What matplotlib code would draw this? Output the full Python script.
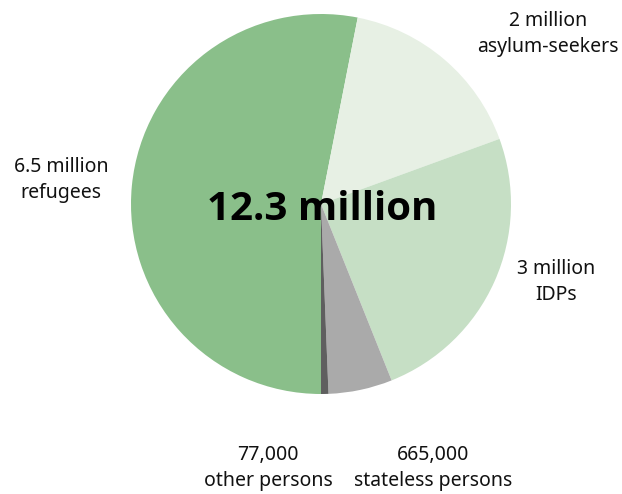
import matplotlib
matplotlib.use("Agg")
import matplotlib.pyplot as plt

categories = ["refugees", "asylum-seekers", "IDPs", "stateless persons", "other persons"]
values_millions = [6.5, 2.0, 3.0, 0.665, 0.077]
labels = ["6.5 million\nrefugees", "2 million\nasylum-seekers", "3 million\nIDPs",
          "665,000\nstateless persons", "77,000\nother persons"]
colors = ["#8abf8a", "#e7f0e4", "#c6dfc5", "#aaaaaa", "#5f5f5f"]
total_label = "12.3 million"

plt.rcParams['font.family'] = ['Noto Sans', 'DejaVu Sans']

W, H = 622, 494
fig = plt.figure(figsize=(W / 100, H / 100), dpi=100)
ax = fig.add_axes([0, 0, 1, 1])

cx, cy, r = 321, H - 204, 190
ax.pie(values_millions, colors=colors, startangle=-90, counterclock=False,
       center=(cx, cy), radius=r, frame=True,
       wedgeprops=dict(linewidth=0))
ax.set_xlim(0, W)
ax.set_ylim(0, H)
ax.set_aspect('equal')
ax.axis('off')

label_pos = [(61, H - 180), (548, H - 34), (556, H - 282), (433, H - 468), (268, H - 468)]
for lab, (x, y) in zip(labels, label_pos):
    ax.text(x, y, lab, ha='center', va='center', fontsize=14, color='#111111',
            linespacing=1.45)

ax.text(cx + 1, H - 209, total_label, ha='center', va='center', fontsize=29,
        fontweight='bold', color='black', family=['Open Sans', 'DejaVu Sans'])

fig.savefig("out.png", dpi=100)
